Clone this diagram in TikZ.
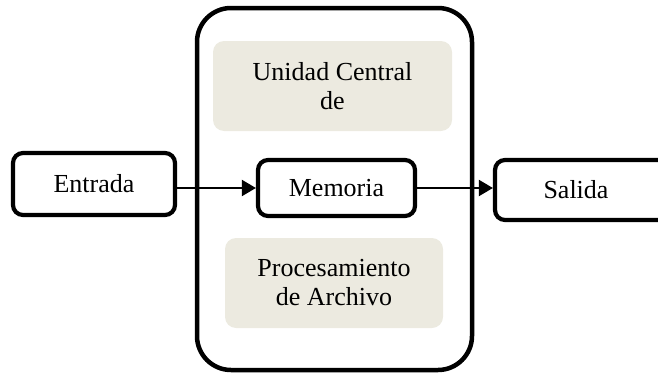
\documentclass[tikz,border=0pt]{standalone}
\usepackage{fontspec}
\setmainfont{Liberation Serif}
\usetikzlibrary{arrows.meta}
\definecolor{boxgray}{HTML}{ECEAE0}
\begin{document}
\begin{tikzpicture}[x=1pt,y=-1pt,
  every node/.style={font=\fontsize{26}{29}\selectfont, inner sep=0pt, align=center},
  blackbox/.style={draw=black, line width=4.2pt, rounded corners=10pt, fill=white},
  graybox/.style={fill=boxgray, rounded corners=11pt},
  conn/.style={line width=2pt, -{Triangle[length=14pt,width=16pt]}}]
\useasboundingbox (0,0) rectangle (658,372);
\node[draw=black, line width=4.5pt, rounded corners=34pt, minimum width=275pt, minimum height=362pt] (cpu) at (334.5,189) {};
\node[graybox, minimum width=239pt, minimum height=90pt] (ucp) at (332.5,86) {Unidad Central\\de};
\node[graybox, minimum width=218pt, minimum height=90pt] (proc) at (334,283) {Procesamiento\\de Archivo};
\node[blackbox, minimum width=157pt, minimum height=56pt] (mem) at (336.5,188) {Memoria};
\node[blackbox, minimum width=162pt, minimum height=62pt] (ent) at (94,184) {Entrada};
\node[blackbox, minimum width=200pt, minimum height=60pt, text width=200pt] (sal) at (595,190) {\hspace*{-38pt}Salida};
\draw[conn] (ent.east |- mem.west) -- (mem.west);
\draw[conn] (mem.east) -- (sal.west |- mem.east);
\end{tikzpicture}
\end{document}
